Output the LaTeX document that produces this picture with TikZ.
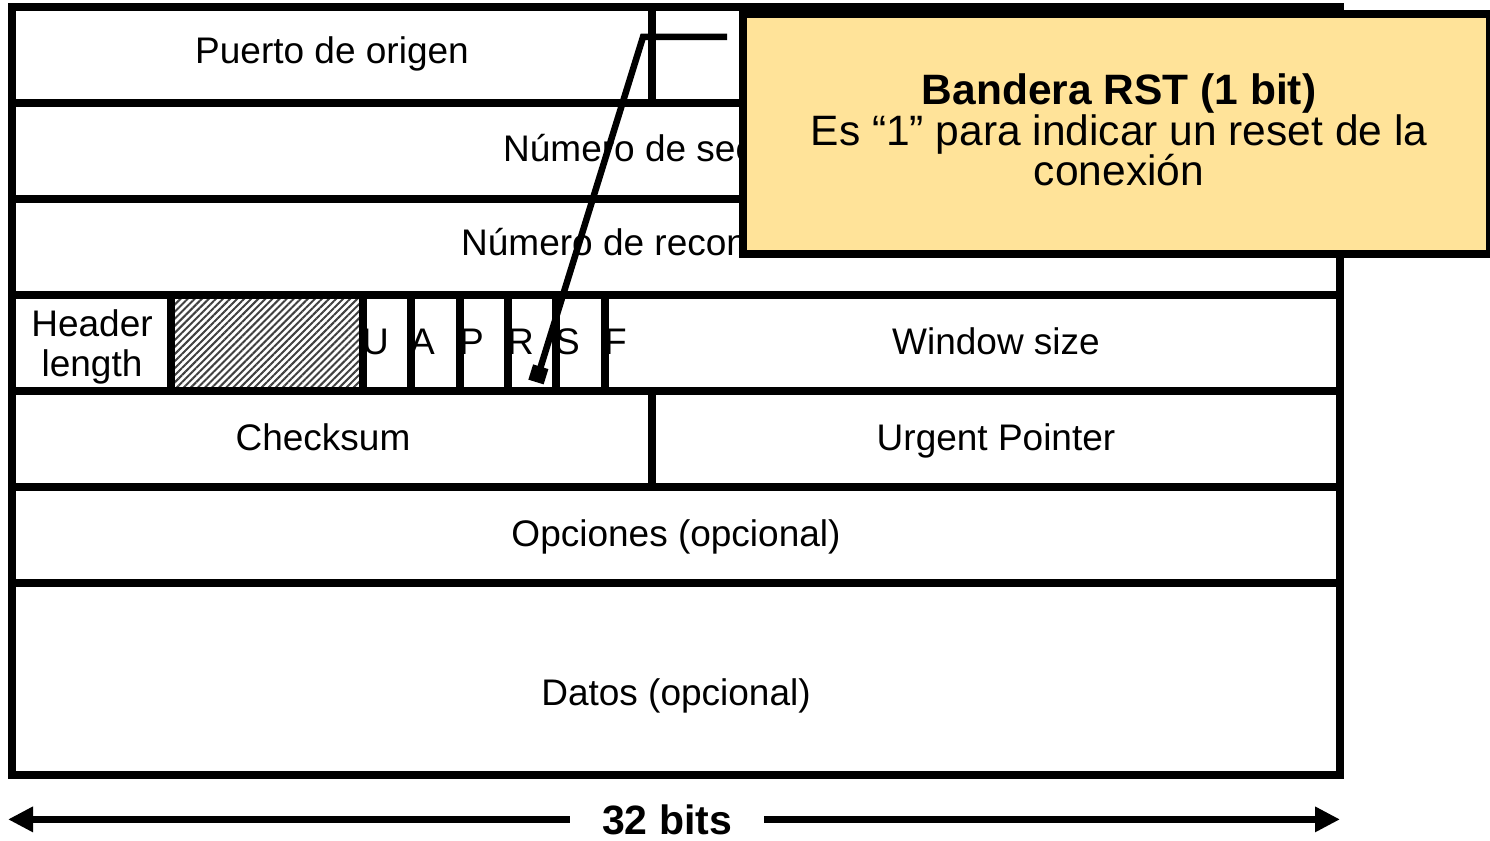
\documentclass[tikz,border=0pt]{standalone}
\usepackage{fontspec}
\setmainfont{Liberation Sans}
\usetikzlibrary{arrows.meta,patterns.meta}
\definecolor{calloutfill}{RGB}{255,227,153}
\begin{document}
\setlength{\lineskiplimit}{-50pt}
\begin{tikzpicture}[x=1pt,y=-1pt,
  grid/.style={line width=8pt},
  lbl/.style={font=\fontsize{37}{40}\selectfont, inner sep=0pt, anchor=base},
  flag/.style={font=\fontsize{37}{40}\selectfont, inner sep=0pt, anchor=base west},
  hatch/.style={pattern={Lines[angle=45,distance=5pt,line width=2pt]}, pattern color=black!75},
  conn/.style={line width=6.5pt, line join=miter, -{Square[length=16pt,width=16pt]}},
  callbox/.style={fill=calloutfill, draw=black, line width=8pt},
  calltext/.style={font=\fontsize{42.5}{40.5}\selectfont, inner sep=0pt, align=center},
  dimline/.style={line width=7pt, -{Triangle[length=25pt,width=24pt]}},
  bitslbl/.style={font=\fontsize{41}{44}\selectfont\bfseries, inner xsep=32pt, inner ysep=0pt, anchor=base}
]
\useasboundingbox (0,0) rectangle (1490,840);

% hatched reserved bits
\fill[hatch] (171,295) rectangle (363,391);

% field labels
\node[lbl] (srcport) at (332,64) {Puerto de origen};
\node[lbl, anchor=base west] (seq) at (503,161) {Número de secuencia};
\node[lbl, anchor=base west] (ack) at (461,255) {Número de reconocimiento};
\node[lbl, align=center, anchor=center] (hlen) at (92,347) {Header\\length};
\node[flag] (fU) at (362,354) {U};
\node[flag] (fA) at (410,354) {A};
\node[flag] (fP) at (459,354) {P};
\node[flag] (fR) at (507,354) {R};
\node[flag] (fS) at (555,354) {S};
\node[flag] (fF) at (604,354) {F};
\node[lbl] (win) at (996,354) {Window size};
\node[lbl] (chk) at (323,450) {Checksum};
\node[lbl] (urg) at (996,450) {Urgent Pointer};
\node[lbl] (opt) at (676,546) {Opciones (opcional)};
\node[lbl] (data) at (676,705) {Datos (opcional)};

% table grid
\draw[grid] (12,7) rectangle (1340,775);
\foreach \yy in {103,199,295,391,487,583}
  \draw[grid] (12,\yy) -- (1340,\yy);
\draw[grid] (652,7) -- (652,103);
\draw[grid] (652,391) -- (652,487);
\foreach \xx in {171,363,411,460,508,556,605}
  \draw[grid] (\xx,295) -- (\xx,391);

% connector to RST flag
\coordinate (cA) at (727,37);
\coordinate (cB) at (643,37);
\coordinate (cC) at (536,382);
\draw[conn] (cA) -- (cB) -- (cC);

% callout
\draw[callbox] (743,14) rectangle (1490,254);
\node[calltext] (rst) at (1119,130) {\textbf{Bandera RST (1 bit)}\\Es “1” para indicar un reset de la\\conexión};

% width dimension
\node[bitslbl] (bits) at (667,834) {32 bits};
\coordinate (aL) at (8,820);
\coordinate (aR) at (1340,820);
\draw[dimline] (bits.west) -- (bits.west -| aL);
\draw[dimline] (bits.east) -- (bits.east -| aR);
\end{tikzpicture}
\end{document}
